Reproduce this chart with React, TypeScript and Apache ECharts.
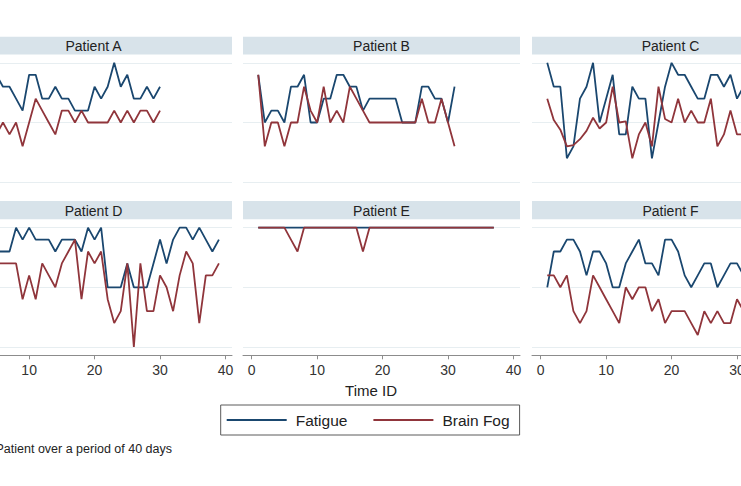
import React, { useEffect, useRef } from "react";
import * as echarts from "echarts";

// ---------- data (time IDs start at 1) ----------
const patients = ["Patient A", "Patient B", "Patient C", "Patient D", "Patient E", "Patient F"];
const seriesNames = ["Fatigue", "Brain Fog"];
const timeTicks = [0, 10, 20, 30, 40];
const scoreTicks = [0, 5, 10];

const fatigueA = [8, 9, 8, 9, 9, 8, 8, 7, 6, 9, 9, 7, 7, 8, 7, 7, 6, 6, 6, 8, 7, 8, 10, 8, 9, 7, 7, 8, 7, 8];
const brainFogA = [5, 4, 5, 5, 4, 5, 4, 5, 3, 5, 7, 6, 5, 4, 6, 6, 5, 6, 5, 5, 5, 5, 6, 5, 6, 5, 6, 6, 5, 6];

const fatigueB = [9, 5, 6, 6, 5, 8, 8, 9, 5, 5, 7, 7, 9, 9, 8, 8, 6, 7, 7, 7, 7, 7, 5, 5, 5, 8, 8, 7, 7, 5, 8];
const brainFogB = [9, 3, 5, 5, 3, 5, 5, 8, 6, 5, 8, 5, 6, 5, 8, 7, 6, 5, 5, 5, 5, 5, 5, 5, 5, 7, 5, 5, 7, 5, 3];

const fatigueC = [10, 8, 8, 2, 3, 7, 8, 10, 5, 7, 9, 4, 4, 8, 7, 7, 2, 5, 8, 10, 9, 9, 8, 7, 7, 9, 9, 8, 9, 7, 8];
const brainFogC = [7, 5.2, 4.4, 3, 3.1, 3.6, 4.3, 5.4, 4.5, 5, 8, 5, 5.1, 2, 4, 5, 3, 8, 5.3, 5, 7, 5, 6, 5, 5, 7, 3, 4, 6, 4, 4];

const fatigueD = [8, 8, 8, 8, 8, 8, 8, 10, 9, 10, 9, 9, 9, 8, 9, 9, 9, 8, 10, 9, 10, 5, 5, 5, 7, 5, 5, 5, 7, 9, 7, 9, 10, 10, 9, 10, 9, 8, 9];
const brainFogD = [7, 7, 7, 7, 7, 7, 7, 7, 4, 6, 4, 7, 6, 5, 7, 8, 9, 4, 8, 7, 8, 4, 2, 3, 7, 0, 7, 3, 3, 6, 5, 3, 6, 8, 7, 2, 6, 6, 7];

const fatigueE = [10, 10, 10, 10, 10, 10, 10, 10, 10, 10, 10, 10, 10, 10, 10, 10, 10, 10, 10, 10, 10, 10, 10, 10, 10, 10, 10, 10, 10, 10, 10, 10, 10, 10, 10, 10, 10];
const brainFogE = [10, 10, 10, 10, 10, 9, 8, 10, 10, 10, 10, 10, 10, 10, 10, 10, 8, 10, 10, 10, 10, 10, 10, 10, 10, 10, 10, 10, 10, 10, 10, 10, 10, 10, 10, 10, 10];

const fatigueF = [5, 8, 8, 9, 9, 8, 6, 8, 8, 7, 5, 5, 7, 8, 9, 7, 7, 6, 9, 9, 8, 6, 5, 6, 7, 7, 5, 6, 7, 7, 6];
const brainFogF = [6, 6, 5, 6, 3, 2, 3, 6, 5, 4, 3, 2, 5, 4, 5, 5, 3, 4, 2, 3, 3, 3, 2, 1, 3, 2, 3, 2, 2, 4, 3];

const fatigueAll = [fatigueA, fatigueB, fatigueC, fatigueD, fatigueE, fatigueF];
const brainFogAll = [brainFogA, brainFogB, brainFogC, brainFogD, brainFogE, brainFogF];

// ---------- layout / style ----------
const OFF = 60; // the picture is a crop: the chart canvas starts 60px left of the window
const W = 741, H = 486;
const FONT = '"Liberation Sans", Arial, Helvetica, sans-serif';
const BLUE = "#1a476f";
const RED = "#90353b";
const STRIP = "#d8e3ea";
const GRID = "#e7eef1";
const colLeft = [-45, 243, 532];
const rowTop = [54.5, 219.3];
const stripTop = [36.7, 201];
const stripH = [17.8, 18.3];
const PW = 277, PH = 136;
const X_MIN = -1.33, X_MAX = 41.0;
const Y_MIN = -0.7, Y_MAX = 10.7;

const toPairs = (arr: number[]) => arr.map((v, i) => [i + 1, v]);

export default function App() {
  const ref = useRef<HTMLDivElement>(null);
  useEffect(() => {
    if (!ref.current) return;
    const chart = echarts.init(ref.current, undefined, { renderer: "svg" });

    const grids = patients.map((_, i) => ({
      left: colLeft[i % 3] + OFF,
      top: rowTop[Math.floor(i / 3)],
      width: PW,
      height: PH,
    }));

    const xAxes = patients.map((_, i) => {
      const bottom = i >= 3;
      return {
        type: "value",
        gridIndex: i,
        min: X_MIN,
        max: X_MAX,
        show: bottom,
        axisLine: { show: bottom, onZero: false, lineStyle: { color: "#8c8c8c", width: 1 } },
        axisTick: { show: bottom, length: 4, inside: false, customValues: timeTicks, lineStyle: { color: "#8c8c8c" } },
        axisLabel: {
          show: bottom,
          customValues: timeTicks,
          fontSize: 14,
          color: "#333",
          fontFamily: FONT,
          margin: 8,
          showMinLabel: true,
          showMaxLabel: true,
        },
        splitLine: { show: false },
      };
    });

    const yAxes = patients.map((_, i) => ({
      type: "value",
      gridIndex: i,
      min: Y_MIN,
      max: Y_MAX,
      axisLine: { show: false },
      axisTick: { show: false, customValues: scoreTicks },
      axisLabel: { show: false, customValues: scoreTicks },
      splitLine: { show: true, lineStyle: { color: GRID, width: 1 } },
    }));

    const series: any[] = [];
    patients.forEach((_, i) => {
      series.push({
        name: seriesNames[0],
        type: "line",
        xAxisIndex: i,
        yAxisIndex: i,
        data: toPairs(fatigueAll[i]),
        symbol: "none",
        color: BLUE,
        lineStyle: { color: BLUE, width: 1.8 },
        z: 2,
      });
      series.push({
        name: seriesNames[1],
        type: "line",
        xAxisIndex: i,
        yAxisIndex: i,
        data: toPairs(brainFogAll[i]),
        symbol: "none",
        color: RED,
        lineStyle: { color: RED, width: 1.8 },
        z: 3,
      });
    });

    const graphics: any[] = [];
    patients.forEach((name, i) => {
      const r = Math.floor(i / 3);
      const x0 = colLeft[i % 3] + OFF;
      graphics.push({
        type: "rect",
        shape: { x: x0, y: stripTop[r], width: PW, height: stripH[r] },
        style: { fill: STRIP },
        silent: true,
      });
      graphics.push({
        type: "text",
        x: x0 + PW / 2,
        y: stripTop[r] + stripH[r] / 2 + 0.5,
        style: { text: name, fontSize: 14, fontFamily: FONT, fill: "#222", align: "center", verticalAlign: "middle" },
        silent: true,
      });
    });
    graphics.push({
      type: "text",
      x: 371 + OFF,
      y: 390,
      style: { text: "Time ID", fontSize: 15, fontFamily: FONT, fill: "#222", align: "center", verticalAlign: "middle" },
      silent: true,
    });
    graphics.push({
      type: "text",
      x: -4.5 + OFF,
      y: 449,
      style: { text: "Patient over a period of 40 days", fontSize: 12.5, fontFamily: FONT, fill: "#222", align: "left", verticalAlign: "middle" },
      silent: true,
    });

    chart.setOption({
      animation: false,
      backgroundColor: "#ffffff",
      textStyle: { fontFamily: FONT },
      grid: grids,
      xAxis: xAxes,
      yAxis: yAxes,
      series,
      legend: {
        data: seriesNames,
        left: 220.7 + OFF,
        top: 405,
        orient: "horizontal",
        icon: "rect",
        itemWidth: 60,
        itemHeight: 2,
        itemGap: 26,
        selectedMode: false,
        borderColor: "#5a5a5a",
        borderWidth: 1,
        padding: [7, 10, 7, 6],
        textStyle: { fontSize: 15.5, color: "#222", fontFamily: FONT, padding: [0, 0, 0, 4] },
      },
      graphic: graphics,
    });
    return () => chart.dispose();
  }, []);

  return (
    <div style={{ position: "fixed", left: 0, top: 0, width: W, height: H, overflow: "hidden", background: "#fff" }}>
      <div ref={ref} style={{ position: "absolute", left: -OFF, top: 0, width: W + OFF + 90, height: H }} />
    </div>
  );
}
